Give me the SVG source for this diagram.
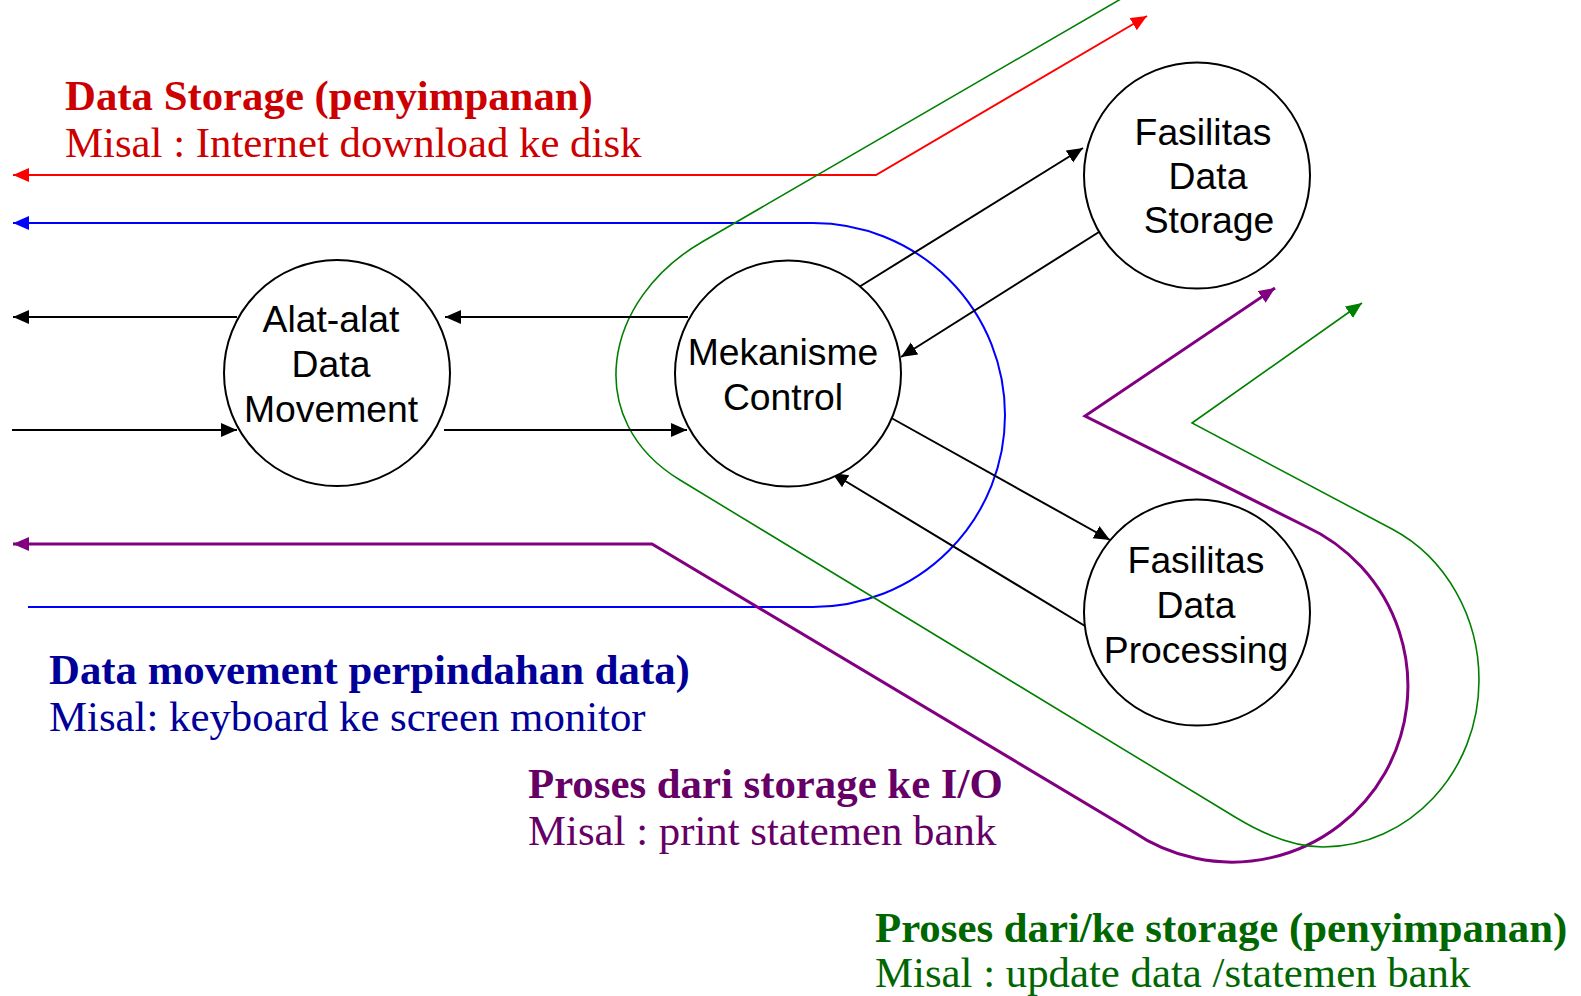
<svg xmlns="http://www.w3.org/2000/svg" width="1581" height="996" viewBox="0 0 1581 996">
<style>
.node{fill:#fff;stroke:#000;stroke-width:2}
.nt{font-family:"Liberation Sans",Arial,sans-serif;font-size:37.3px;fill:#000;text-anchor:middle}
.lbl{font-family:"Liberation Serif","Times New Roman",serif;font-size:42.8px}
.b{font-weight:bold}
.k{fill:none;stroke:#000;stroke-width:2}
.r{fill:none;stroke:#ff0000;stroke-width:2}
.bl{fill:none;stroke:#0000ff;stroke-width:2}
.p{fill:none;stroke:#800080;stroke-width:3}
.g{fill:none;stroke:#008000;stroke-width:1.6}
</style>
<defs>
<marker id="ak" markerUnits="userSpaceOnUse" markerWidth="17" markerHeight="15" refX="16" refY="7" orient="auto-start-reverse"><path d="M0,0 L16,7 L0,14 z" fill="#000"/></marker>
<marker id="ar" markerUnits="userSpaceOnUse" markerWidth="17" markerHeight="15" refX="16" refY="7" orient="auto-start-reverse"><path d="M0,0 L16,7 L0,14 z" fill="#ff0000"/></marker>
<marker id="ab" markerUnits="userSpaceOnUse" markerWidth="17" markerHeight="15" refX="16" refY="7" orient="auto-start-reverse"><path d="M0,0 L16,7 L0,14 z" fill="#0000ff"/></marker>
<marker id="ap" markerUnits="userSpaceOnUse" markerWidth="17" markerHeight="15" refX="16" refY="7" orient="auto-start-reverse"><path d="M0,0 L16,7 L0,14 z" fill="#800080"/></marker>
<marker id="ag" markerUnits="userSpaceOnUse" markerWidth="17" markerHeight="15" refX="16" refY="7" orient="auto-start-reverse"><path d="M0,0 L16,7 L0,14 z" fill="#008000"/></marker>
</defs>
<rect width="1581" height="996" fill="#fff"/>

<g id="connectors">
<path class="r" d="M13,175 H876 L1147,16" marker-start="url(#ar)" marker-end="url(#ar)"/>
<path class="bl" d="M13,223 H813 A192,192 0 0 1 813,607 H28" marker-start="url(#ab)"/>
<path class="p" d="M13,544 H652 L1132,831 A176,176 0 1 0 1305,526 L1085,416 L1275,288" marker-start="url(#ap)" marker-end="url(#ap)"/>
<path class="g" d="M1126,-4 L702,242 C602.5,299.7 581.7,420.3 680,480 L1235,817 C1260.6,832.6 1293,847 1323,847 C1409,847 1479,772 1479,680 C1479,618 1446.8,558 1392,529 L1192,423 L1362,303" marker-end="url(#ag)"/>
<line class="k" x1="237" y1="317" x2="13" y2="317" marker-end="url(#ak)"/>
<line class="k" x1="12" y1="430" x2="237" y2="430" marker-end="url(#ak)"/>
<line class="k" x1="688" y1="317" x2="445" y2="317" marker-end="url(#ak)"/>
<line class="k" x1="444" y1="430" x2="687" y2="430" marker-end="url(#ak)"/>
<line class="k" x1="859" y1="287" x2="1083" y2="148" marker-end="url(#ak)"/>
<line class="k" x1="1099" y1="232" x2="901" y2="357" marker-end="url(#ak)"/>
<line class="k" x1="886" y1="415" x2="1110" y2="540" marker-end="url(#ak)"/>
<line class="k" x1="1085" y1="626" x2="832" y2="473" marker-end="url(#ak)"/>
</g>

<g id="node-alat">
<circle class="node" cx="337" cy="373" r="113"/>
<text class="nt" x="331" y="332">Alat-alat</text>
<text class="nt" x="331" y="377">Data</text>
<text class="nt" x="331" y="422">Movement</text>
</g>
<g id="node-mekanisme">
<circle class="node" cx="788" cy="373.5" r="113"/>
<text class="nt" x="783" y="365">Mekanisme</text>
<text class="nt" x="783" y="410">Control</text>
</g>
<g id="node-storage">
<circle class="node" cx="1197" cy="175.5" r="113"/>
<text class="nt" x="1203" y="145">Fasilitas</text>
<text class="nt" x="1208" y="189">Data</text>
<text class="nt" x="1209" y="233">Storage</text>
</g>
<g id="node-processing">
<circle class="node" cx="1197" cy="612.5" r="113"/>
<text class="nt" x="1196" y="573">Fasilitas</text>
<text class="nt" x="1196" y="618">Data</text>
<text class="nt" x="1196" y="663">Processing</text>
</g>

<g id="label-storage" fill="#cc0000">
<text class="lbl b" x="65" y="110">Data Storage (penyimpanan)</text>
<text class="lbl" x="65" y="157">Misal : Internet download ke disk</text>
</g>
<g id="label-movement" fill="#000099">
<text class="lbl b" x="49" y="684">Data movement perpindahan data)</text>
<text class="lbl" x="49" y="731">Misal: keyboard ke screen monitor</text>
</g>
<g id="label-io" fill="#660066">
<text class="lbl b" x="528" y="798">Proses dari storage ke I/O</text>
<text class="lbl" x="528" y="845">Misal : print statemen bank</text>
</g>
<g id="label-process" fill="#006600">
<text class="lbl b" x="875" y="942">Proses dari/ke storage (penyimpanan)</text>
<text class="lbl" x="875" y="987">Misal : update data /statemen bank</text>
</g>
</svg>
